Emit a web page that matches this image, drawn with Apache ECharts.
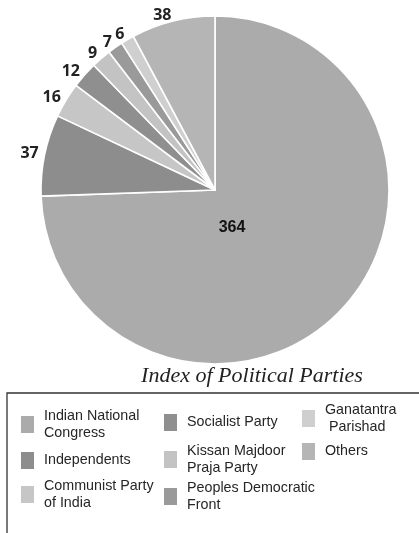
<!DOCTYPE html>
<html>
<head>
<meta charset="utf-8">
<script src="https://cdn.jsdelivr.net/npm/echarts@6/dist/echarts.min.js"></script>
<style>
html,body{margin:0;padding:0;background:#fff;}
#chart{width:419px;height:533px;}
</style>
</head>
<body>
<div id="chart"></div>
<script>
// ---- data ----
const categories = ['Indian National Congress','Independents','Communist Party of India','Socialist Party','Kissan Majdoor Praja Party','Peoples Democratic Front','Ganatantra Parishad','Others'];
const seats = [364, 37, 16, 12, 9, 7, 6, 38];
const legendLabels = ['Indian National\nCongress','Independents','Communist Party\nof India','Socialist Party','Kissan Majdoor\nPraja Party','Peoples Democratic\nFront','Ganatantra\n Parishad','Others'];
const chartTitle = 'Index of Political Parties';

// ---- styles / layout ----
const sliceColors = ['#ababab','#8d8d8d','#c6c6c6','#8f8f8f','#c3c3c3','#9a9a9a','#cfcfcf','#b5b5b5'];
const legendPos = [[21,408],[21,452],[21,478],[164,414],[164,443],[164,480],[302,402],[302,443]];

const chart = echarts.init(document.getElementById('chart'), null, {renderer:'canvas'});

const legends = categories.map((name, i) => ({
  data: [name],
  left: legendPos[i][0],
  top: legendPos[i][1],
  orient: 'vertical',
  icon: 'rect',
  itemWidth: 13,
  itemHeight: 17,
  padding: 0,
  selectedMode: false,
  itemStyle: {borderWidth: 0},
  formatter: () => legendLabels[i],
  textStyle: {fontFamily: 'Liberation Sans', fontSize: 14.3, color: '#262626', lineHeight: 16.5, padding: [0,0,0,5]}
}));

chart.setOption({
  animation: false,
  title: {
    text: chartTitle,
    left: 252,
    textAlign: 'center',
    top: 365,
    padding: 0,
    textStyle: {fontFamily: 'Liberation Serif', fontStyle: 'italic', fontWeight: 'normal', fontSize: 22, color: '#222'}
  },
  legend: legends,
  graphic: [{
    type: 'rect',
    shape: {x: 7, y: 393, width: 440, height: 170},
    style: {fill: 'none', stroke: '#333', lineWidth: 1.3},
    silent: true
  }],
  series: [{
    type: 'pie',
    center: [215, 190],
    radius: 174,
    startAngle: 90,
    clockwise: true,
    avoidLabelOverlap: false,
    emphasis: {disabled: true},
    itemStyle: {borderColor: '#fff', borderWidth: 1.6},
    label: {
      show: true,
      position: 'outside',
      formatter: '{c}',
      fontFamily: 'Open Sans',
      fontWeight: 'bold',
      fontSize: 16,
      color: '#222',
      distanceToLabelLine: 0
    },
    labelLine: {show: false, length: 6, length2: 0},
    labelLayout: p => p.dataIndex === 0 ? {dx: 17, dy: 38} : {},
    data: categories.map((n, i) => {
      const d = {name: n, value: seats[i], itemStyle: {color: sliceColors[i]}};
      if (i === 0) {
        d.label = {position: 'center', fontFamily: 'Liberation Sans', fontWeight: 'bold', fontSize: 16, color: '#111'};
      }
      return d;
    })
  }]
});
</script>
</body>
</html>
